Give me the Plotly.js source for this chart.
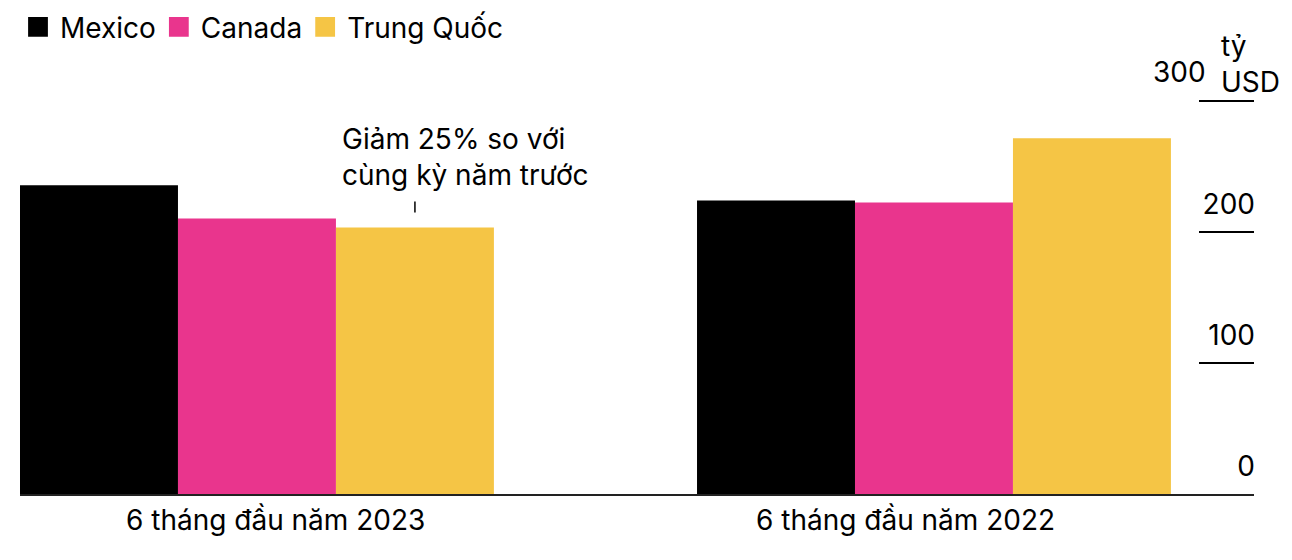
<!DOCTYPE html>
<html>
<head>
<meta charset="utf-8">
<script src="https://cdn.plot.ly/plotly-3.0.1.min.js"></script>
<style>
  body { margin: 0; background: #fff; }
  #chart { width: 1292px; height: 560px; }
</style>
</head>
<body>
<div id="chart"></div>
<script>
// periods on the x axis
var periods = ['6 tháng đầu năm 2023', '6 tháng đầu năm 2022'];

// trade values, billions USD
var mexico = [236.0, 224.3];
var canada = [210.6, 222.8];
var china = [203.7, 271.8];

var seriesNames = ['Mexico', 'Canada', 'Trung Quốc'];
var seriesColors = ['#000000', '#e9358d', '#f5c545'];

var yTicks = [0, 100, 200, 300];
var yTickLabels = ['0', '100', '200', '300'];

var note = 'Giảm 25% so với<br>cùng kỳ năm trước';
var unitLabel = 'tỷ<br>USD';

var FONT = 'Inter, "Liberation Sans", Arial, sans-serif';
var FS = 28;
var bargap = 0.3;

var idx = periods.map(function (p, i) { return i; });

var traces = [mexico, canada, china].map(function (vals, k) {
    return {
        type: 'bar',
        name: seriesNames[k],
        x: idx,
        y: vals,
        marker: {color: seriesColors[k], line: {width: 0}},
        hoverinfo: 'y+name'
    };
});

// centre of the China bar in the first group (grouped bars split 1-bargap in three)
var chinaOffset = (1 - bargap) / 3;

// the period labels sit a little off the group centres in the original
var periodShift = [19, -28];

var annotations = periods.map(function (p, i) {
    return {
        xref: 'x', x: i, xanchor: 'center', xshift: periodShift[i],
        yref: 'paper', y: 0, yanchor: 'top', yshift: -7,
        text: p, showarrow: false, font: {size: FS}
    };
});

annotations.push(
    {
        xref: 'paper', x: 1, xanchor: 'right', xshift: -46,
        yref: 'y', y: yTicks[yTicks.length - 1], yanchor: 'bottom', yshift: 10,
        text: yTickLabels[yTickLabels.length - 1], showarrow: false,
        font: {size: FS}
    },
    {
        xref: 'paper', x: 1, xanchor: 'left', xshift: -35,
        yref: 'y', y: yTicks[yTicks.length - 1], yanchor: 'bottom', yshift: 0,
        text: unitLabel, align: 'left', showarrow: false,
        font: {size: FS}
    },
    {
        xref: 'x', x: chinaOffset, xanchor: 'left', xshift: -75,
        yref: 'y', y: china[0], yanchor: 'bottom', yshift: 33,
        text: note, align: 'left', showarrow: false,
        font: {size: FS}
    }
);

var layout = {
    width: 1292,
    height: 560,
    margin: {l: 20, r: 38, t: 70, b: 66},
    paper_bgcolor: '#fff',
    plot_bgcolor: '#fff',
    font: {family: FONT, size: FS, color: '#000'},
    barmode: 'group',
    bargap: bargap,
    bargroupgap: 0,
    showlegend: true,
    legend: {
        orientation: 'h',
        x: 0, xanchor: 'left',
        yref: 'container', y: 0.996, yanchor: 'top',
        font: {size: FS, color: '#000'},
        itemwidth: 30,
        tracegroupgap: 0
    },
    xaxis: {
        range: [-0.35, 1.4727],
        tickvals: idx,
        showticklabels: false,
        ticks: '',
        showgrid: false,
        zeroline: false,
        showline: true,
        linecolor: '#222',
        linewidth: 1.5,
        fixedrange: true
    },
    yaxis: {
        side: 'right',
        range: [0, 324],
        tickvals: yTicks,
        ticktext: yTickLabels.map(function (t, i) { return i === yTicks.length - 1 ? '' : t; }),
        ticks: 'inside',
        ticklen: 55,
        tickwidth: 2,
        tickcolor: '#000',
        ticklabelposition: 'inside top',
        ticklabelshift: -7,
        ticklabelstandoff: -4,
        showgrid: false,
        zeroline: false,
        showline: false,
        tickfont: {size: FS, color: '#000'},
        fixedrange: true
    },
    annotations: annotations,
    shapes: [
        {
            type: 'line',
            xref: 'x', x0: chinaOffset, x1: chinaOffset,
            yref: 'y', ysizemode: 'pixel', yanchor: china[0], y0: 15, y1: 26,
            line: {color: '#000', width: 1.5}
        }
    ]
};

Plotly.newPlot('chart', traces, layout, {displayModeBar: false, staticPlot: true}).then(function (gd) {
    // bigger legend squares, sitting closer to their names, like the original
    var pts = gd.querySelectorAll('.legend .legendpoints path');
    pts.forEach(function (p) {
        p.setAttribute('transform', 'translate(18,0) scale(1.65)');
    });
});
</script>
</body>
</html>
